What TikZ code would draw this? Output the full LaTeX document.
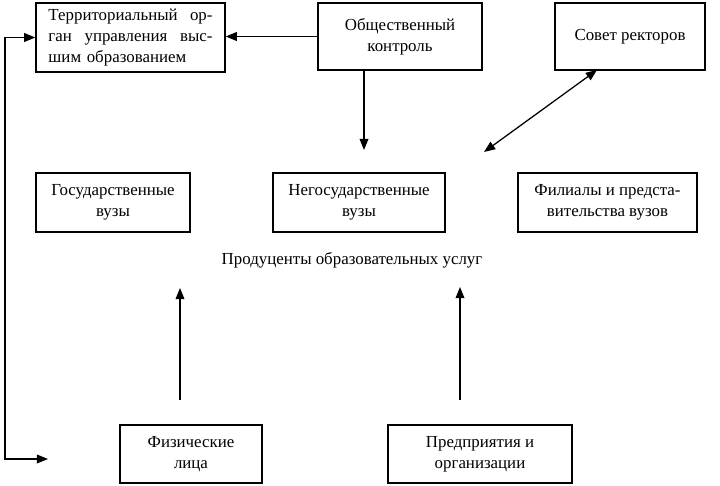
\documentclass[tikz,border=0pt]{standalone}
\usepackage{fontspec}
\setmainfont{Liberation Serif}
\usepackage{tikz}
\usetikzlibrary{arrows.meta, positioning}
\tikzset{
  unit/.style={rectangle, draw=black, line width=0.9pt, fill=white, align=center, font=\fontsize{12}{15}\selectfont, inner sep=2pt},
  arrow/.style={-{Triangle[length=2.8mm, width=2.2mm]}, line width=0.9pt, draw=black},
  twoway/.style={{Triangle[length=2.8mm, width=2.2mm]}-{Triangle[length=2.8mm, width=2.2mm]}, line width=0.9pt, draw=black},
}

\begin{document}
\begin{tikzpicture}[x=0.025cm, y=-0.025cm]
  \useasboundingbox (0,0) rectangle (720,485);

  \node (terr) [unit, minimum width=4.725cm, minimum height=1.725cm, text width=4.1cm, align=left] at (130.5,37.5)
    {Территориальный\hfill ор-\\ган\hfill управления\hfill выс-\\шим образованием};
  \node (obsh) [unit, minimum width=4.1cm, minimum height=1.675cm] at (400,36.5) {Общественный\\контроль};
  \node (sovet) [unit, minimum width=3.75cm, minimum height=1.675cm] at (630,36.5) {Совет ректоров};
  \node (gos) [unit, minimum width=3.85cm, minimum height=1.475cm] at (113,202.5) {Государственные\\вузы};
  \node (negos) [unit, minimum width=4.3cm, minimum height=1.475cm] at (359,202.5) {Негосударственные\\вузы};
  \node (fil) [unit, minimum width=4.475cm, minimum height=1.475cm] at (607.5,202.5) {Филиалы и предста-\\вительства вузов};
  \node (prod) [font=\fontsize{12}{15}\selectfont] at (352,260) {Продуценты образовательных услуг};
  \node (fiz) [unit, minimum width=3.55cm, minimum height=1.45cm] at (191,454) {Физические\\лица};
  \node (pred) [unit, minimum width=4.6cm, minimum height=1.45cm] at (480,454) {Предприятия и\\организации};

  \coordinate (obshend) at (364,150);
  \coordinate (sovetend) at (484,152);
  \coordinate (leftcorner) at (5,459);
  \coordinate (leftend) at (48,459);
  \coordinate (fizfrom) at (180,400);
  \coordinate (fizto) at (180,288);
  \coordinate (predfrom) at (460,400);
  \coordinate (predto) at (460,287);

  \draw [arrow] (obsh.west) -- (obsh.west -| terr.east);
  \draw [arrow] (obsh.south -| obshend) -- (obshend);
  \draw [twoway] (sovetend) -- (597,70);
  \draw [twoway] (terr.west) -| (leftcorner) -- (leftend);
  \draw [arrow] (fizfrom) -- (fizto);
  \draw [arrow] (predfrom) -- (predto);

\end{tikzpicture}
\end{document}
